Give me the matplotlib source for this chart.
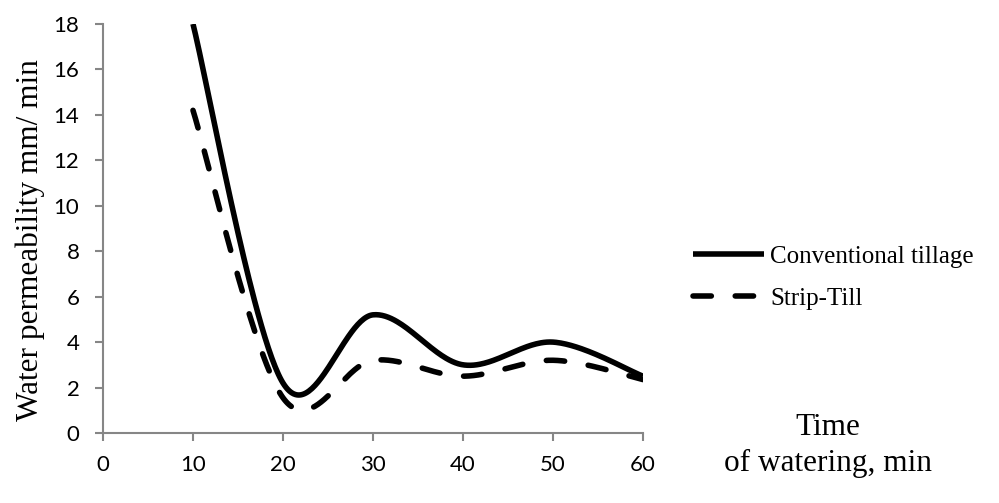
import numpy as np
import matplotlib
matplotlib.use("Agg")
import matplotlib.pyplot as plt

# Data
time_min = [10, 20, 30, 40, 50, 60]
conventional = [18.0, 2.2, 5.2, 3.0, 4.0, 2.5]
strip_till = [14.2, 1.55, 3.2, 2.5, 3.2, 2.35]
x_ticks = [0, 10, 20, 30, 40, 50, 60]
y_ticks = [0, 2, 4, 6, 8, 10, 12, 14, 16, 18]
series_names = ["Conventional tillage", "Strip-Till"]


def excel_smooth(xs, ys, n=60):
    xs = np.asarray(xs, float)
    ys = np.asarray(ys, float)
    px = np.concatenate([[xs[0]], xs, [xs[-1]]])
    py = np.concatenate([[ys[0]], ys, [ys[-1]]])
    outx, outy = [], []
    t = np.linspace(0, 1, n)
    for i in range(1, len(px) - 2):
        p0 = np.array([px[i], py[i]])
        p3 = np.array([px[i + 1], py[i + 1]])
        c1 = p0 + (np.array([px[i + 1], py[i + 1]]) - np.array([px[i - 1], py[i - 1]])) / 6.0
        c2 = p3 - (np.array([px[i + 2], py[i + 2]]) - np.array([px[i], py[i]])) / 6.0
        b = ((1 - t) ** 3)[:, None] * p0 + (3 * (1 - t) ** 2 * t)[:, None] * c1 \
            + (3 * (1 - t) * t ** 2)[:, None] * c2 + (t ** 3)[:, None] * p3
        outx.extend(b[:, 0])
        outy.extend(b[:, 1])
    return np.array(outx), np.array(outy)


fig = plt.figure(figsize=(9.99, 5.03), dpi=100)
ax = fig.add_axes([0.1031, 0.1392, 0.5405, 0.8131])

gray = "#868686"
sx, sy = excel_smooth(time_min, conventional)
l1, = ax.plot(sx, sy, color="black", lw=4, solid_capstyle="butt",
              label=series_names[0])
dx, dy = excel_smooth(time_min, strip_till)
l2, = ax.plot(dx, dy, color="black", lw=4, linestyle=(0, (3.3, 4.3)),
              dash_capstyle="round", label=series_names[1])

ax.set_xlim(0, 60)
ax.set_ylim(0, 18)
ax.set_xticks(x_ticks)
ax.set_yticks(y_ticks)
for s in ["top", "right"]:
    ax.spines[s].set_visible(False)
for s in ["left", "bottom"]:
    ax.spines[s].set_color(gray)
    ax.spines[s].set_linewidth(1.5)
ax.tick_params(axis="both", direction="out", length=6, width=1.5, color=gray,
               labelsize=16, labelcolor="black")
ax.tick_params(axis="x", pad=10)
ax.tick_params(axis="y", pad=11)
for lab in ax.get_xticklabels() + ax.get_yticklabels():
    lab.set_fontfamily("Lato")

fig.text(0.030, 0.523, "Water permeability mm/ min", rotation=90,
         ha="center", va="center", family="Liberation Serif", fontsize=22.5)
fig.text(0.829, 0.114, "Time\nof watering, min", ha="center", va="center",
         family="Liberation Serif", fontsize=22.5, linespacing=1.3)

leg = fig.legend(handles=[l1, l2], loc="center left",
                 bbox_to_anchor=(0.671, 0.448), frameon=False,
                 prop={"family": "Liberation Serif", "size": 18},
                 handlelength=2.85, handletextpad=0.25, labelspacing=0.8)

fig.savefig("out.png", dpi=100)
